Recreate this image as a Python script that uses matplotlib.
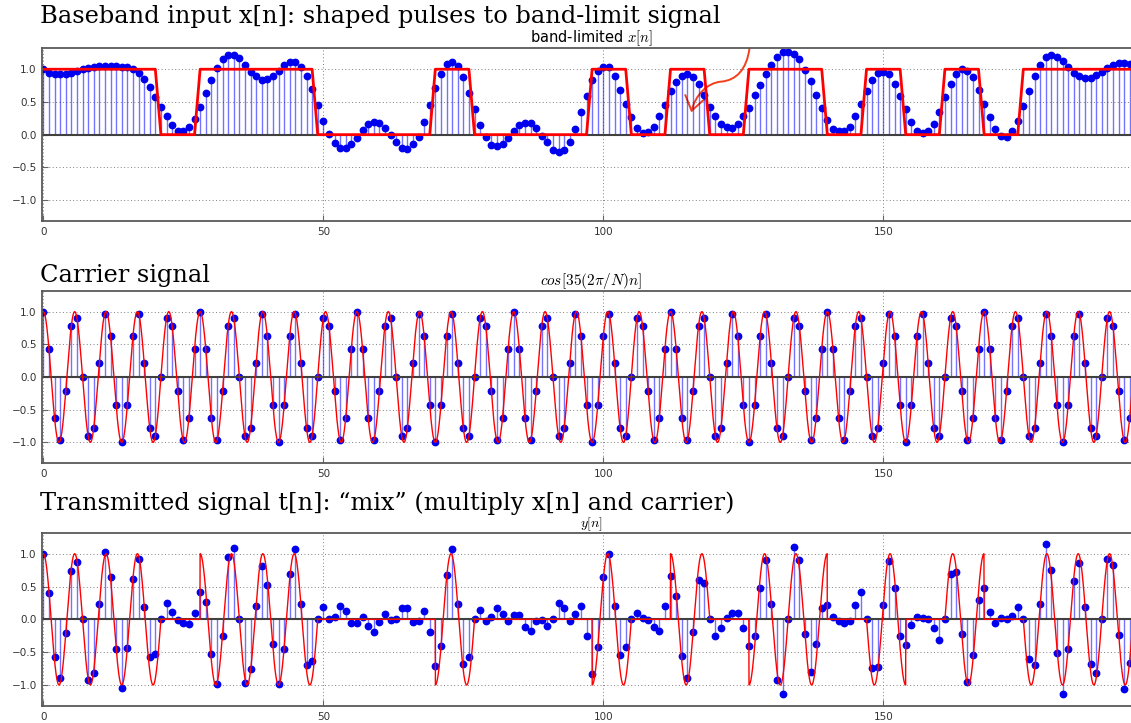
import numpy as np
import matplotlib
matplotlib.use("Agg")
import matplotlib.pyplot as plt
from matplotlib.path import Path
from matplotlib.patches import FancyArrowPatch

plt.rcParams['mathtext.fontset'] = 'cm'

# carrier parameters, as written in the panel label cos[35(2pi/N)n]
N = 196
K = 35
BIT_LEN = 7

# transmitted bits (one per 7 samples)
bits = [1, 1, 1, 0, 1, 1, 1, 0, 0, 0, 1, 0, 0, 0,
        1, 0, 1, 0, 1, 1, 0, 1, 0, 1, 0, 1, 1, 1]

# band-limited x[n]
x_band = [
    1.00, 0.95, 0.93, 0.92, 0.93, 0.94, 0.97, 1.00, 1.02, 1.04,
    1.05, 1.05, 1.05, 1.05, 1.04, 1.03, 1.00, 0.95, 0.85, 0.73,
    0.58, 0.42, 0.28, 0.15, 0.06, 0.05, 0.11, 0.24, 0.42, 0.63,
    0.84, 1.02, 1.16, 1.21, 1.21, 1.17, 1.07, 0.96, 0.89, 0.84,
    0.85, 0.89, 0.98, 1.06, 1.11, 1.11, 1.04, 0.89, 0.70, 0.46,
    0.21, 0.01, -0.13, -0.21, -0.21, -0.14, -0.05, 0.07, 0.16, 0.20,
    0.18, 0.10, -0.01, -0.11, -0.20, -0.22, -0.15, -0.03, 0.20, 0.45,
    0.71, 0.93, 1.08, 1.11, 1.05, 0.88, 0.64, 0.39, 0.15, -0.04,
    -0.16, -0.18, -0.14, -0.05, 0.06, 0.15, 0.18, 0.18, 0.10, -0.02,
    -0.12, -0.23, -0.27, -0.23, -0.11, 0.09, 0.34, 0.59, 0.83, 0.97,
    1.04, 1.03, 0.89, 0.69, 0.47, 0.27, 0.10, 0.03, 0.04, 0.12,
    0.28, 0.46, 0.66, 0.81, 0.90, 0.92, 0.88, 0.77, 0.61, 0.43,
    0.29, 0.17, 0.11, 0.10, 0.16, 0.29, 0.41, 0.60, 0.76, 0.93,
    1.07, 1.19, 1.26, 1.27, 1.23, 1.15, 0.99, 0.82, 0.61, 0.40,
    0.22, 0.08, 0.05, 0.05, 0.12, 0.28, 0.47, 0.66, 0.83, 0.94,
    0.96, 0.92, 0.78, 0.59, 0.39, 0.20, 0.06, 0.02, 0.05, 0.17,
    0.35, 0.57, 0.77, 0.92, 1.00, 0.98, 0.88, 0.69, 0.47, 0.27,
    0.08, -0.02, -0.03, 0.06, 0.21, 0.44, 0.67, 0.89, 1.07, 1.18,
    1.22, 1.19, 1.13, 1.04, 0.95, 0.89, 0.86, 0.87, 0.91, 0.96,
    1.02, 1.07, 1.10, 1.10, 1.08, 1.04,
]

# carrier samples, one period of 28 samples (repeats 7 times over N)
carrier_period = [1.00, 0.43, -0.62, -0.97, -0.22, 0.78, 0.90, 0.00,
                  -0.90, -0.78, 0.22, 0.97, 0.62, -0.43, -1.00, -0.43,
                  0.62, 0.97, 0.22, -0.78, -0.90, 0.00, 0.90, 0.78,
                  -0.22, -0.97, -0.62, 0.43]

xticks = [0, 50, 100, 150]
yticks = [-1.0, -0.5, 0.0, 0.5, 1.0]

n = np.arange(N)
x_band = np.array(x_band)
carrier = np.tile(carrier_period, N // len(carrier_period))
rect = np.repeat(bits, BIT_LEN)
y_tx = x_band * carrier

t = np.linspace(0, N, 6000)
carrier_c = np.cos(K * 2 * np.pi / N * t)
rect_c = np.array(bits)[np.minimum((t // BIT_LEN).astype(int), len(bits) - 1)]

W, H = 1131, 723
fig = plt.figure(figsize=(W / 100, H / 100), dpi=100)


def make_ax(top_px, bot_px):
    left = 42.2
    width = 5.6 * 196.2
    return fig.add_axes([left / W, (H - bot_px) / H, width / W, (bot_px - top_px) / H])


def style(ax):
    ax.set_xlim(-0.2, 196)
    ax.set_ylim(-1.32, 1.32)
    ax.set_xticks(xticks)
    ax.set_yticks(yticks)
    ax.grid(True, ls=(0, (1, 2.5)), color='0.5', lw=0.7)
    ax.set_axisbelow(True)
    ax.tick_params(direction='in', labelsize=7.5, labelcolor='0.2', color='0.4',
                   length=4, pad=4)
    for s in ax.spines.values():
        s.set_color('0.35')
        s.set_linewidth(1.3)


def stems(ax, vals):
    ml, sl, bl = ax.stem(n, vals, linefmt='b-', markerfmt='bo', basefmt='k-')
    sl.set_alpha(0.55)
    sl.set_linewidth(1.0)
    ml.set_markersize(4.6)
    ml.set_color('#0000ee')
    bl.set_color('0.25')
    bl.set_linewidth(1.5)
    bl.set_xdata([-1, N + 1])


ax1 = make_ax(48.3, 221)
ax2 = make_ax(290.7, 463.3)
ax3 = make_ax(532.7, 706)

stems(ax1, x_band)
ax1.plot(n, rect, color='r', lw=2)
style(ax1)
ax1.set_title('band-limited $x[n]$', fontsize=10.5, pad=4)

verts = [(126.1, 1.32), (125.6, 1.0), (123.8, 0.83), (121.0, 0.81),
         (118.5, 0.79), (116.4, 0.6), (115.7, 0.34)]
codes = [Path.MOVETO] + [Path.CURVE4] * 6
arrow = FancyArrowPatch(path=Path(verts, codes),
                        arrowstyle='->,head_length=0.5,head_width=0.35',
                        mutation_scale=20, color='#f2401c', lw=1.4,
                        transform=ax1.transData)
ax1.add_patch(arrow)

stems(ax2, carrier)
ax2.plot(t, carrier_c, color='r', lw=1)
style(ax2)
ax2.set_title(r'$cos[35(2\pi/N)n]$', fontsize=11, pad=4)

stems(ax3, y_tx)
ax3.plot(t, carrier_c * rect_c, color='r', lw=1)
style(ax3)
ax3.set_title('$y[n]$', fontsize=10, pad=1.5)

serif = dict(family='DejaVu Serif', fontsize=17.4, va='baseline', ha='left')
fig.text(40 / W, (H - 23.3) / H, 'Baseband input x[n]: shaped pulses to band-limit signal', **serif)
fig.text(40 / W, (H - 281.7) / H, 'Carrier signal', **serif)
fig.text(40 / W, (H - 510) / H,
         'Transmitted signal t[n]: \u201cmix\u201d (multiply x[n] and carrier)', **serif)

fig.savefig('out.png', dpi=100)
